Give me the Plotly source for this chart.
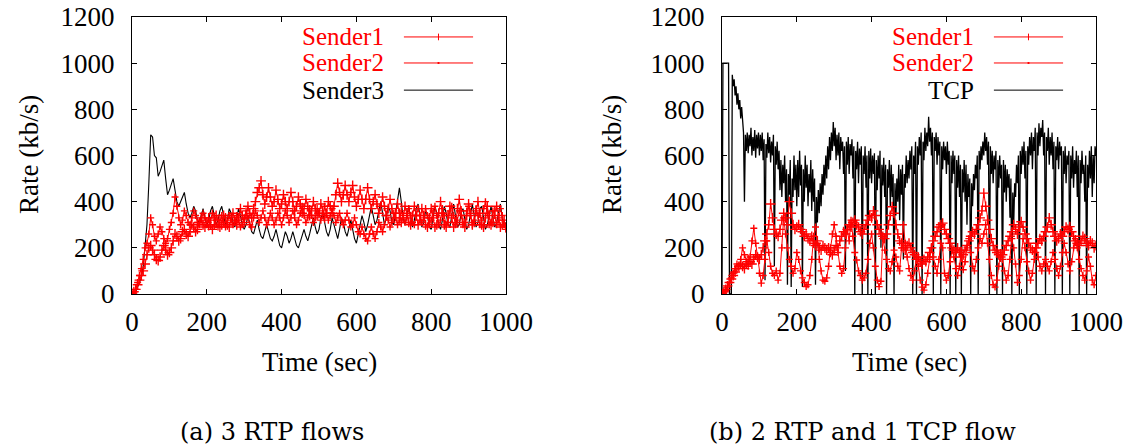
import plotly.graph_objects as go

# ---------------- data ----------------
STEP = 5        # RTP series sampled every 5 s
TCP_STEP = 2.5  # TCP series sampled every 2.5 s

# (a) 3 RTP flows
a_sender1 = [
    0, 10, 20, 40, 60, 80, 100, 130, 170, 200, 210, 190, 170, 150, 145, 160, 190, 210, 190, 170,
    180, 200, 230, 260, 250, 230, 240, 270, 280, 260, 250, 270, 300, 290, 270, 280, 310, 330, 300, 290,
    310, 330, 300, 280, 300, 340, 320, 290, 300, 340, 330, 300, 290, 330, 350, 320, 300, 330, 370, 340,
    310, 340, 380, 350, 330, 370, 400, 440, 460, 490, 430, 390, 420, 460, 420, 380, 400, 450, 410, 370,
    390, 430, 400, 370, 400, 440, 400, 360, 380, 420, 390, 350, 370, 410, 380, 340, 360, 400, 370, 340,
    350, 390, 360, 330, 350, 400, 380, 350, 380, 430, 480, 440, 400, 430, 470, 430, 400, 440, 470, 420,
    380, 410, 450, 410, 370, 410, 460, 410, 370, 400, 430, 390, 350, 380, 420, 380, 340, 370, 410, 370,
    330, 350, 390, 350, 310, 330, 380, 350, 310, 300, 340, 380, 340, 300, 320, 370, 340, 300, 290, 330,
    370, 330, 290, 300, 350, 400, 350, 300, 290, 340, 380, 330, 290, 310, 370, 410, 360, 310, 290, 340,
    390, 350, 300, 310, 360, 400, 350, 300, 290, 330, 380, 340, 300, 310, 360, 380, 330, 290, 300, 320,
    290]
a_sender2 = [
    0, 5, 20, 50, 80, 110, 150, 200, 220, 260, 330, 300, 250, 230, 260, 290, 270, 240, 220, 240,
    280, 310, 350, 420, 380, 330, 300, 320, 360, 340, 310, 300, 330, 360, 340, 310, 300, 320, 350, 330,
    300, 290, 320, 350, 330, 300, 290, 320, 340, 310, 290, 310, 340, 320, 300, 310, 340, 320, 290, 300,
    330, 360, 330, 300, 290, 330, 360, 340, 310, 330, 360, 330, 300, 320, 350, 330, 300, 320, 350, 330,
    300, 330, 360, 340, 310, 330, 360, 330, 300, 320, 350, 380, 340, 310, 330, 370, 340, 310, 330, 370,
    350, 320, 340, 380, 350, 320, 340, 370, 340, 310, 330, 350, 320, 300, 320, 350, 320, 290, 300, 330,
    300, 270, 260, 290, 260, 240, 230, 260, 290, 260, 240, 270, 310, 290, 270, 300, 340, 320, 290, 310,
    350, 330, 300, 320, 360, 340, 310, 330, 370, 340, 310, 300, 340, 370, 340, 310, 330, 370, 340, 300,
    320, 360, 380, 340, 300, 320, 370, 340, 300, 310, 360, 380, 340, 300, 320, 360, 340, 300, 310, 360,
    380, 340, 300, 320, 370, 340, 300, 320, 370, 400, 350, 300, 310, 360, 340, 300, 320, 370, 340, 300,
    280]
a_sender3 = [
    0, 5, 10, 30, 50, 70, 120, 200, 300, 480, 690, 680, 600, 590, 510, 530, 560, 580, 500, 430,
    450, 480, 500, 450, 400, 380, 400, 420, 440, 390, 350, 330, 350, 380, 360, 320, 310, 340, 370, 330,
    300, 320, 360, 380, 330, 300, 320, 360, 380, 340, 300, 320, 370, 350, 310, 290, 330, 370, 340, 300,
    280, 300, 340, 310, 270, 260, 290, 320, 280, 250, 240, 270, 300, 270, 240, 230, 250, 280, 250, 210,
    200, 230, 270, 250, 220, 240, 270, 240, 210, 200, 230, 260, 280, 250, 230, 260, 300, 330, 290, 260,
    280, 330, 350, 310, 270, 250, 280, 330, 300, 260, 240, 280, 330, 310, 270, 250, 280, 320, 280, 240,
    220, 260, 300, 340, 310, 270, 300, 350, 380, 340, 300, 320, 370, 400, 350, 300, 330, 380, 360, 310,
    300, 350, 410, 460, 400, 330, 300, 340, 380, 330, 290, 320, 370, 390, 330, 290, 310, 360, 340, 290,
    280, 330, 380, 350, 300, 280, 320, 380, 350, 300, 290, 340, 390, 340, 290, 300, 350, 370, 320, 280,
    300, 350, 390, 340, 290, 310, 370, 380, 320, 280, 300, 350, 380, 330, 290, 310, 360, 390, 330, 290,
    310]

# (b) 2 RTP and 1 TCP flow
b_sender1 = [
    0, 10, 20, 35, 50, 65, 80, 95, 110, 120, 130, 120, 110, 130, 150, 140, 130, 150, 170, 160,
    150, 170, 200, 230, 260, 300, 390, 330, 280, 260, 250, 280, 320, 350, 330, 300, 400, 350, 300, 280,
    290, 300, 280, 270, 250, 260, 240, 230, 250, 220, 210, 230, 200, 190, 210, 200, 190, 200, 180, 170,
    190, 210, 200, 230, 250, 270, 260, 280, 300, 290, 310, 320, 300, 290, 270, 260, 280, 300, 320, 340,
    330, 360, 340, 300, 280, 260, 250, 240, 260, 300, 340, 378, 350, 300, 260, 230, 220, 200, 190, 210,
    220, 200, 180, 170, 150, 160, 140, 130, 150, 140, 160, 180, 200, 230, 250, 270, 290, 300, 307, 280,
    260, 240, 220, 200, 190, 180, 200, 180, 160, 170, 190, 210, 230, 250, 270, 260, 280, 300, 330, 360,
    437, 380, 320, 280, 240, 210, 190, 180, 170, 160, 170, 190, 210, 230, 250, 270, 300, 280, 260, 290,
    313, 290, 260, 240, 220, 200, 190, 180, 200, 220, 240, 230, 250, 270, 290, 330, 300, 270, 250, 230,
    240, 260, 250, 270, 290, 280, 292, 270, 250, 230, 220, 210, 230, 250, 240, 220, 210, 230, 220, 200,
    210]
b_sender2 = [
    0, 5, 15, 30, 50, 70, 90, 110, 130, 120, 150, 200, 170, 140, 120, 160, 230, 285, 220, 160,
    90, 47, 80, 150, 230, 180, 120, 90, 80, 100, 60, 90, 200, 330, 260, 200, 150, 120, 90, 110,
    180, 150, 100, 70, 50, 32, 40, 80, 150, 250, 290, 220, 150, 100, 60, 55, 70, 120, 200, 260,
    300, 250, 180, 120, 90, 110, 200, 277, 230, 320, 250, 180, 147, 100, 80, 60, 70, 90, 150, 220,
    260, 200, 120, 60, 32, 55, 240, 190, 150, 110, 100, 140, 190, 160, 120, 100, 200, 300, 220, 160,
    110, 80, 60, 100, 160, 120, 60, 30, 17, 40, 90, 150, 200, 160, 120, 90, 150, 220, 200, 90,
    60, 80, 140, 190, 160, 110, 80, 120, 190, 105, 140, 200, 240, 180, 120, 100, 150, 200, 240, 220,
    260, 300, 220, 150, 80, 40, 30, 60, 120, 180, 150, 100, 60, 80, 150, 240, 200, 130, 50, 80,
    150, 240, 200, 140, 100, 60, 90, 150, 200, 160, 120, 100, 130, 150, 120, 100, 140, 180, 150, 110,
    80, 120, 180, 220, 180, 130, 100, 140, 200, 240, 200, 150, 110, 80, 60, 100, 160, 120, 60, 40,
    80]
b_tcp = [
    0, 1000, 1000, 1000, 1000, 1000, 1000, 1000, 0, 0, 0, 950, 900, 930, 860, 900, 820, 870, 800, 840,
    760, 810, 740, 700, 400, 690, 620, 700, 610, 690, 640, 720, 600, 680, 620, 710, 590, 690, 630, 700,
    600, 690, 620, 700, 580, 670, 60, 650, 590, 700, 610, 680, 570, 660, 600, 690, 120, 640, 560, 660,
    540, 620, 450, 580, 420, 560, 480, 600, 400, 540, 40, 520, 430, 580, 30, 500, 420, 600, 450, 560,
    380, 580, 420, 620, 470, 560, 30, 540, 400, 600, 460, 560, 380, 520, 440, 580, 360, 540, 400, 500,
    40, 420, 310, 450, 350, 480, 380, 520, 430, 560, 470, 600, 500, 640, 540, 680, 580, 700, 620, 745,
    640, 720, 580, 690, 600, 700, 540, 680, 620, 660, 520, 640, 100, 660, 560, 680, 520, 650, 600, 670,
    500, 640, 0, 620, 540, 660, 480, 630, 560, 640, 0, 600, 520, 640, 460, 600, 0, 620, 500, 630,
    480, 600, 520, 610, 0, 580, 450, 600, 500, 620, 200, 560, 470, 590, 420, 560, 0, 540, 460, 580,
    380, 560, 420, 520, 0, 480, 340, 500, 400, 560, 320, 540, 430, 560, 150, 520, 460, 600, 480, 580,
    500, 620, 540, 640, 0, 600, 520, 660, 0, 640, 560, 680, 600, 700, 0, 660, 580, 720, 620, 700,
    640, 768, 660, 720, 600, 700, 0, 680, 620, 700, 560, 680, 600, 660, 0, 640, 540, 660, 580, 640,
    520, 660, 560, 620, 0, 600, 480, 620, 520, 600, 0, 580, 460, 600, 420, 560, 0, 540, 440, 580,
    400, 560, 300, 520, 420, 500, 0, 480, 380, 520, 450, 560, 500, 600, 0, 620, 540, 640, 580, 660,
    600, 700, 620, 680, 560, 660, 0, 640, 520, 620, 480, 600, 540, 620, 0, 580, 460, 600, 500, 560,
    0, 580, 440, 560, 400, 540, 460, 520, 330, 500, 0, 440, 300, 480, 420, 560, 480, 600, 0, 620,
    520, 640, 560, 660, 500, 620, 0, 640, 560, 680, 600, 700, 540, 680, 620, 720, 0, 700, 600, 740,
    640, 720, 680, 754, 600, 700, 0, 680, 620, 720, 560, 680, 600, 700, 540, 660, 0, 640, 580, 680,
    540, 660, 600, 640, 0, 620, 520, 640, 480, 600, 560, 620, 0, 600, 500, 640, 460, 580, 520, 620,
    420, 600, 0, 580, 480, 620, 520, 560, 400, 600, 0, 560, 460, 620, 500, 640, 420, 600, 480, 640,
    600]

x_ticks = [0, 200, 400, 600, 800, 1000]
y_ticks = [0, 200, 400, 600, 800, 1000, 1200]
x_title = "Time (sec)"
y_title = "Rate (kb/s)"
captions = ["(a) 3 RTP flows", "(b) 2 RTP and 1 TCP flow"]
legend_a = ["Sender1", "Sender2", "Sender3"]
legend_b = ["Sender1", "Sender2", "TCP"]


def times(series, step=STEP):
    return [step * i for i in range(len(series))]


# ---------------- figure ----------------
W, H = 1123, 447
RED = "#ff0000"
FONT = "Liberation Serif, Times New Roman, Times, serif"
CAPFONT = "DejaVu Serif, Liberation Serif, serif"
FS = 27

fig = go.Figure()

def add_red(series, xa, ya, size):
    fig.add_trace(go.Scatter(
        x=times(series), y=series, xaxis=xa, yaxis=ya, mode="lines+markers",
        line=dict(color=RED, width=1),
        marker=dict(symbol="cross-thin", size=size, color=RED, line=dict(width=1.4, color=RED)),
        showlegend=False, hoverinfo="skip"))

def add_black(series, xa, ya, step=STEP, width=1.1):
    fig.add_trace(go.Scatter(
        x=times(series, step), y=series, xaxis=xa, yaxis=ya, mode="lines",
        line=dict(color="black", width=width), showlegend=False, hoverinfo="skip"))

add_black(a_sender3, "x", "y")
add_red(a_sender2, "x", "y", 5)
add_red(a_sender1, "x", "y", 7)

add_black(b_tcp, "x2", "y2", TCP_STEP, 1.3)
add_red(b_sender2, "x2", "y2", 5)
add_red(b_sender1, "x2", "y2", 7)

px = lambda v: v / W
py = lambda v: 1 - v / H

ydom = [py(294), py(17)]
xdomA = [px(132), px(506)]
xdomB = [px(722), px(1096)]

axis_common = dict(
    showline=True, linecolor="black", linewidth=1, mirror="ticks",
    ticks="inside", ticklen=5, tickcolor="black", tickwidth=1,
    showgrid=False, zeroline=False,
    tickfont=dict(family=FONT, size=FS, color="black"),
    automargin=False, fixedrange=True,
)

fig.update_layout(
    width=W, height=H, margin=dict(l=0, r=0, t=0, b=0),
    paper_bgcolor="white", plot_bgcolor="white",
    font=dict(family=FONT, color="black"),
    xaxis=dict(domain=xdomA, range=[0, 1000], tickvals=x_ticks, anchor="y",
               ticklabelstandoff=4, **axis_common),
    yaxis=dict(domain=ydom, range=[0, 1200], tickvals=y_ticks, anchor="x",
               ticklabelstandoff=11, **axis_common),
    xaxis2=dict(domain=xdomB, range=[0, 1000], tickvals=x_ticks, anchor="y2",
                ticklabelstandoff=4, **axis_common),
    yaxis2=dict(domain=ydom, range=[0, 1200], tickvals=y_ticks, anchor="x2",
                ticklabelstandoff=11, **axis_common),
    showlegend=False,
)

ann = []
shapes = []
for i, (xa, ya, names, ylab_x, xcen, capx) in enumerate([
        ("x", "y", legend_a, 29, 319, 272),
        ("x2", "y2", legend_b, 612, 909, 862)]):
    ann.append(dict(text=y_title, x=px(ylab_x), y=py(155), xref="paper", yref="paper",
                    textangle=-90, showarrow=False, xanchor="center", yanchor="middle",
                    font=dict(family=FONT, size=FS, color="black")))
    ann.append(dict(text=x_title, x=px(xcen), y=py(362), xref="paper", yref="paper",
                    showarrow=False, xanchor="center", yanchor="middle",
                    font=dict(family=FONT, size=FS, color="black")))
    ann.append(dict(text=captions[i], x=px(capx), y=py(432), xref="paper", yref="paper",
                    showarrow=False, xanchor="center", yanchor="middle",
                    font=dict(family=CAPFONT, size=24, color="black")))
    colors = [RED, RED, "black"]
    ys = [0.928, 0.834, 0.736]
    for name, c, yy in zip(names, colors, ys):
        ann.append(dict(text=name, x=0.68, y=yy, xref=xa + " domain", yref=ya + " domain",
                        showarrow=False, xanchor="right", yanchor="middle",
                        font=dict(family=FONT, size=25, color=c)))
        shapes.append(dict(type="line", xref=xa + " domain", yref=ya + " domain",
                           x0=0.727, x1=0.912, y0=yy, y1=yy,
                           line=dict(color=c, width=1)))
    # point markers in the legend samples
    shapes.append(dict(type="line", xref=xa + " domain", yref=ya + " domain",
                       x0=0.8195, x1=0.8195, y0=ys[0] - 0.012, y1=ys[0] + 0.012,
                       line=dict(color=RED, width=1)))
    shapes.append(dict(type="line", xref=xa + " domain", yref=ya + " domain",
                       x0=0.817, x1=0.822, y0=ys[1], y1=ys[1],
                       line=dict(color=RED, width=2)))

fig.update_layout(annotations=ann, shapes=shapes)
fig.write_html("out.html")
